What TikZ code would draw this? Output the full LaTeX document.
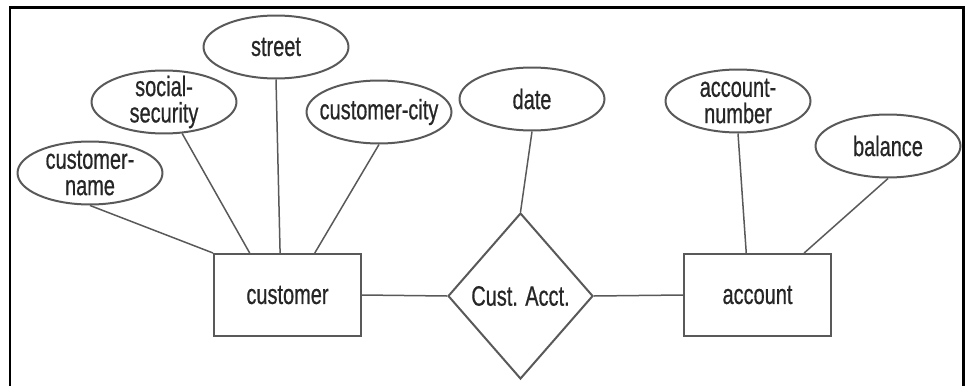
\documentclass[tikz,border=0pt]{standalone}
\usepackage{fontspec}
\usepackage{tikz}
\usetikzlibrary{positioning}
\usetikzlibrary{shapes.geometric}
\newfontfamily\erfont[FakeStretch=0.71,FakeBold=0.6]{Liberation Sans}
\tikzstyle{attrib}=[ellipse,draw=black!65,line width=0.04cm,minimum width=2.9cm,minimum height=1.26cm,inner xsep=-1cm,inner ysep=-0.6cm,align=center,text=black!85,font={\erfont\fontsize{16pt}{15pt}\selectfont}]
\tikzstyle{entity}=[rectangle,draw=black!65,line width=0.04cm,minimum width=2.94cm,minimum height=1.64cm,inner sep=0pt,text=black!85,font={\erfont\fontsize{16pt}{15pt}\selectfont}]
\tikzstyle{relation}=[diamond,draw=black!65,line width=0.04cm,minimum width=2.9cm,minimum height=3.32cm,inner sep=0pt,text=black!85,font={\erfont\fontsize{16pt}{15pt}\selectfont}]
\tikzstyle{link}=[draw=black!65,line width=0.03cm]
\begin{document}
\begin{tikzpicture}[x=0.02cm,y=-0.02cm]
\useasboundingbox (0,0) rectangle (969,385);
\clip (0,0) rectangle (969,385);

%frame
\draw[line width=0.06cm] (10,8) rectangle (963,400);

%entities and relationship
\node[entity] (customer) at (287.5,295) {customer};
\node[entity] (account) at (757.5,295) {account};
\node[relation] (custacct) at (520.5,296) {Cust. Acct.};

%attributes
    \foreach \pos/\name/\label in {{(90,173)/cname/{customer-\\name}}, {(164,102)/ssn/{social-\\security}}, {(276,47)/street/street}, {(379,112)/ccity/customer-city}, {(532,99)/date/date}, {(738,101)/accno/{account-\\number}}, {(888,146)/balance/balance}}
        \node[attrib] (\name) at \pos {\label};

  \foreach \source/ \dest in {cname.south/customer.north west, ssn.-60/customer.132, street.south/customer.100, ccity.south/customer.57, date.south/custacct.north, accno.south/account.105, balance.south/account.42, customer.east/custacct.west, custacct.east/account.west}
          \draw[link] (\source) -- (\dest);

\end{tikzpicture}
\end{document}
